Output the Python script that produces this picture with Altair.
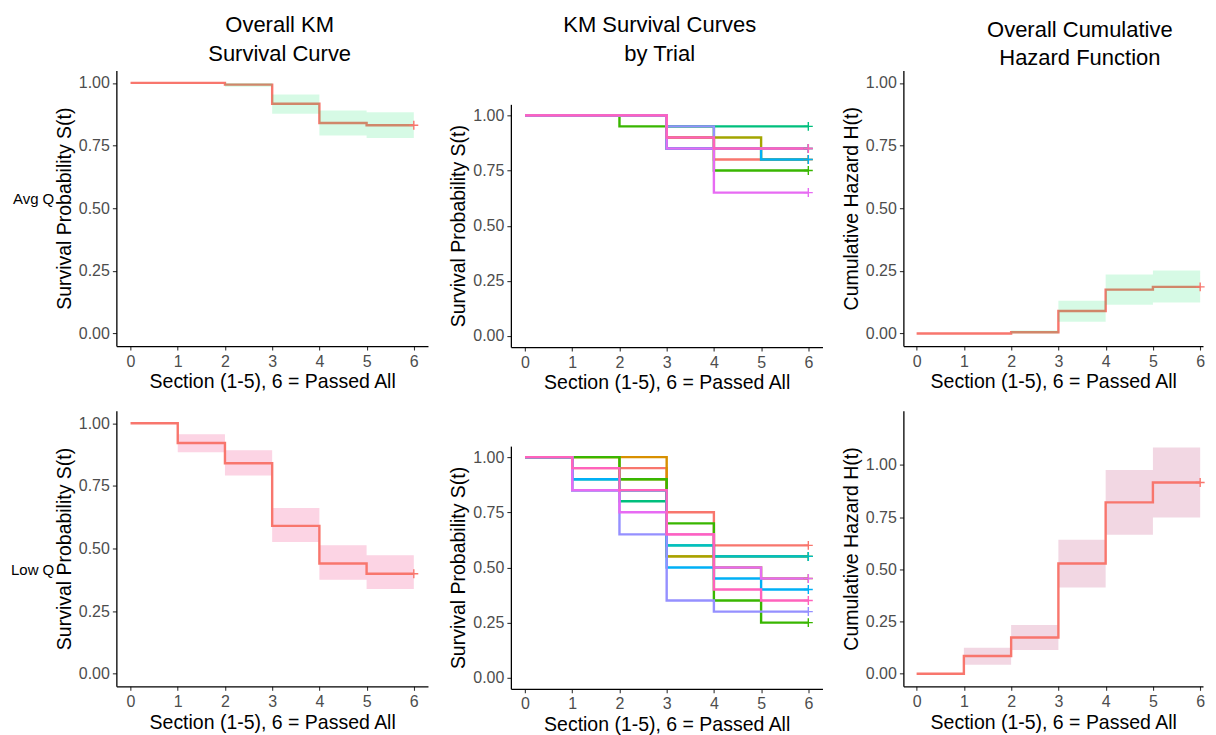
import altair as alt
import pandas as pd

FONT = "Liberation Sans"
RED = "#F8766D"
LW = 2.4
PLUS = "M-1,0L1,0M0,-1L0,1"

times = [0, 1, 2, 3, 4, 5, 6]
x_ticks = [0, 1, 2, 3, 4, 5, 6]
y_ticks = [0, 0.25, 0.5, 0.75, 1.0]
x_title = "Section (1-5), 6 = Passed All"
col_titles = [["Overall KM", "Survival Curve"], ["KM Survival Curves", "by Trial"],
              ["Overall Cumulative", "Hazard Function"]]
row_labels = ["Avg Q", "Low Q"]

# Overall KM survival, Avg Q (estimate and 95% band)
avg_km = [1.000, 1.000, 0.993, 0.917, 0.840, 0.831, 0.831]
avg_km_lo = [1.000, 1.000, 0.985, 0.877, 0.790, 0.780, 0.780]
avg_km_hi = [1.000, 1.000, 1.000, 0.954, 0.890, 0.883, 0.883]
# Overall KM survival, Low Q
low_km = [1.000, 0.921, 0.840, 0.590, 0.440, 0.399, 0.399]
low_km_lo = [1.000, 0.884, 0.791, 0.526, 0.375, 0.338, 0.338]
low_km_hi = [1.000, 0.956, 0.892, 0.662, 0.513, 0.473, 0.473]
# Cumulative hazard, Avg Q
avg_haz = [0.000, 0.000, 0.005, 0.090, 0.175, 0.186, 0.186]
avg_haz_lo = [0.000, 0.000, 0.000, 0.047, 0.115, 0.124, 0.124]
avg_haz_hi = [0.000, 0.000, 0.012, 0.131, 0.235, 0.251, 0.251]
# Cumulative hazard, Low Q
low_haz = [0.000, 0.085, 0.174, 0.528, 0.821, 0.916, 0.916]
low_haz_lo = [0.000, 0.043, 0.114, 0.413, 0.666, 0.748, 0.748]
low_haz_hi = [0.000, 0.125, 0.234, 0.642, 0.976, 1.084, 1.084]

trials = ["Trial 01", "Trial 02", "Trial 03", "Trial 04", "Trial 05",
          "Trial 06", "Trial 07", "Trial 08", "Trial 09", "Trial 10"]
trial_colors = ["#F8766D", "#D89000", "#A3A500", "#39B600", "#00BF7D",
                "#00BFC4", "#00B0F6", "#9590FF", "#E76BF3", "#FF62BC"]

# KM survival by trial (values at t = 0..6)
avg_trial_curves = [
    [1, 1, 1, 0.90, 0.80, 0.80, 0.80],
    [1, 1, 1, 0.85, 0.85, 0.85, 0.85],
    [1, 1, 1, 0.90, 0.90, 0.80, 0.80],
    [1, 1, 0.95, 0.95, 0.75, 0.75, 0.75],
    [1, 1, 1, 0.95, 0.95, 0.95, 0.95],
    [1, 1, 1, 0.85, 0.85, 0.85, 0.85],
    [1, 1, 1, 0.85, 0.85, 0.80, 0.80],
    [1, 1, 1, 0.95, 0.85, 0.85, 0.85],
    [1, 1, 1, 0.85, 0.65, 0.65, 0.65],
    [1, 1, 1, 0.90, 0.85, 0.85, 0.85],
]
low_trial_curves = [
    [1, 0.95, 0.95, 0.75, 0.60, 0.60, 0.60],
    [1, 1, 1, 0.55, 0.55, 0.55, 0.55],
    [1, 1, 0.90, 0.55, 0.50, 0.45, 0.45],
    [1, 1, 0.90, 0.70, 0.35, 0.25, 0.25],
    [1, 0.90, 0.80, 0.60, 0.55, 0.55, 0.55],
    [1, 0.85, 0.85, 0.60, 0.55, 0.55, 0.55],
    [1, 0.90, 0.85, 0.50, 0.45, 0.40, 0.40],
    [1, 0.85, 0.65, 0.35, 0.30, 0.30, 0.30],
    [1, 0.85, 0.75, 0.65, 0.50, 0.45, 0.45],
    [1, 0.95, 0.85, 0.65, 0.40, 0.35, 0.35],
]

XDOM = [-0.3, 6.3]
XDOM3 = [-0.28, 6.06]
YDOM = [-0.05, 1.05]
YDOM_H2 = [-0.06, 1.26]


def xenc(domain):
    return alt.X("t:Q", scale=alt.Scale(domain=domain, nice=False, zero=False),
                 axis=alt.Axis(values=x_ticks, format="d", title=x_title))


def yenc(field, domain, title):
    return alt.Y(f"{field}:Q", scale=alt.Scale(domain=domain, nice=False, zero=False),
                 axis=alt.Axis(values=y_ticks, format=".2f", title=title))


def row_title(text, dy):
    return alt.Title(text, orient="left", angle=0, align="left", baseline="middle",
                     anchor="middle", frame="group", offset=0, dy=dy, fontSize=15,
                     font=FONT, fontWeight="normal", color="black")


def overall_panel(est, lo, hi, xdom, ydom, ytitle, band_color, band_opacity,
                  band_on_top, w, h, title=None):
    df = pd.DataFrame({"t": times, "est": est, "lo": lo, "hi": hi})
    base = alt.Chart(df)
    band = base.mark_area(interpolate="step-after", color=band_color,
                          opacity=band_opacity).encode(
        x=xenc(xdom), y=yenc("lo", ydom, ytitle), y2="hi:Q")
    line = base.mark_line(interpolate="step-after", color=RED,
                          strokeWidth=LW).encode(
        x=xenc(xdom), y=yenc("est", ydom, ytitle))
    cens = base.transform_filter("datum.t == 6").mark_point(
        shape=PLUS, size=80, strokeWidth=1.4, color=RED, filled=False,
        opacity=1).encode(x=xenc(xdom), y=yenc("est", ydom, ytitle))
    layers = [line, band, cens] if band_on_top else [band, line, cens]
    ch = alt.layer(*layers).properties(width=w, height=h)
    if title is not None:
        ch = ch.properties(title=title)
    return ch


def trial_panel(curves, w, h):
    rows = []
    for name, curve in zip(trials, curves):
        for t, v in zip(times, curve):
            rows.append({"trial": name, "t": t, "s": v})
    df = pd.DataFrame(rows)
    color = alt.Color("trial:N", scale=alt.Scale(domain=trials, range=trial_colors),
                      legend=None)
    ytitle = "Survival Probability S(t)"
    line = alt.Chart(df).mark_line(interpolate="step-after", strokeWidth=LW).encode(
        x=xenc(XDOM), y=yenc("s", YDOM, ytitle), color=color)
    cens = alt.Chart(df).transform_filter("datum.t == 6").mark_point(
        shape=PLUS, size=80, strokeWidth=1.4, filled=False, opacity=1).encode(
        x=xenc(XDOM), y=yenc("s", YDOM, ytitle), color=color)
    return alt.layer(line, cens).properties(width=w, height=h)


def title_chart(lines, w, h, dx, dy1, lh=29):
    layers = []
    for i, txt in enumerate(lines):
        layers.append(alt.Chart(pd.DataFrame({"label": [txt]})).mark_text(
            font=FONT, fontSize=22, color="black", dx=dx, dy=dy1 + i * lh,
            baseline="top").encode(text="label:N"))
    return alt.layer(*layers).properties(width=w, height=h)


MINT = "#00E060"
c1r1 = overall_panel(avg_km, avg_km_lo, avg_km_hi, XDOM, YDOM, "Survival Probability S(t)",
                     MINT, 0.16, True, 312, 276, row_title(row_labels[0], -9))
c1r2 = overall_panel(low_km, low_km_lo, low_km_hi, XDOM, YDOM, "Survival Probability S(t)",
                     "#FCD4E4", 1, False, 312, 276, row_title(row_labels[1], 22))
c2r1 = trial_panel(avg_trial_curves, 312, 243)
c2r2 = trial_panel(low_trial_curves, 312, 243)
c3r1 = overall_panel(avg_haz, avg_haz_lo, avg_haz_hi, XDOM3, YDOM, "Cumulative Hazard H(t)",
                     MINT, 0.16, True, 300, 276)
c3r2 = overall_panel(low_haz, low_haz_lo, low_haz_hi, XDOM3, YDOM_H2, "Cumulative Hazard H(t)",
                     "#F2D7E3", 1, False, 300, 276)

title1 = title_chart(col_titles[0], 331.2, 57, -2.1, -27.2)
title2 = title_chart(col_titles[1], 329.3, 90.3, -15.65, -43.85)
title3 = title_chart(col_titles[2], 300, 57, 26.7, -21.8, lh=28.3)

col1 = alt.vconcat(title1, alt.vconcat(c1r1, c1r2, spacing=18.7), spacing=0)
col2 = alt.vconcat(title2, alt.vconcat(c2r1, c2r2, spacing=53.2), spacing=0)
col3 = alt.vconcat(title3, alt.vconcat(c3r1, c3r2, spacing=18.7), spacing=0)

chart = alt.hconcat(col1, col2, col3, spacing=0).properties(
    padding={"left": 2.5, "top": 5, "right": 0, "bottom": 0}
).configure_view(stroke=None).configure_axis(
    grid=False, labelFont=FONT, titleFont=FONT, labelFontSize=16, titleFontSize=19.5,
    titleFontWeight="normal", tickSize=4, tickColor="#333333", tickWidth=1.1,
    domainColor="#000000", domainWidth=1.3, labelColor="#4D4D4D", titleColor="#000000",
    labelPadding=3, labelFlush=False
).configure_axisX(titlePadding=4).configure_axisY(titlePadding=4)

chart.save("out.html", embed_options={"renderer": "svg", "actions": False})
